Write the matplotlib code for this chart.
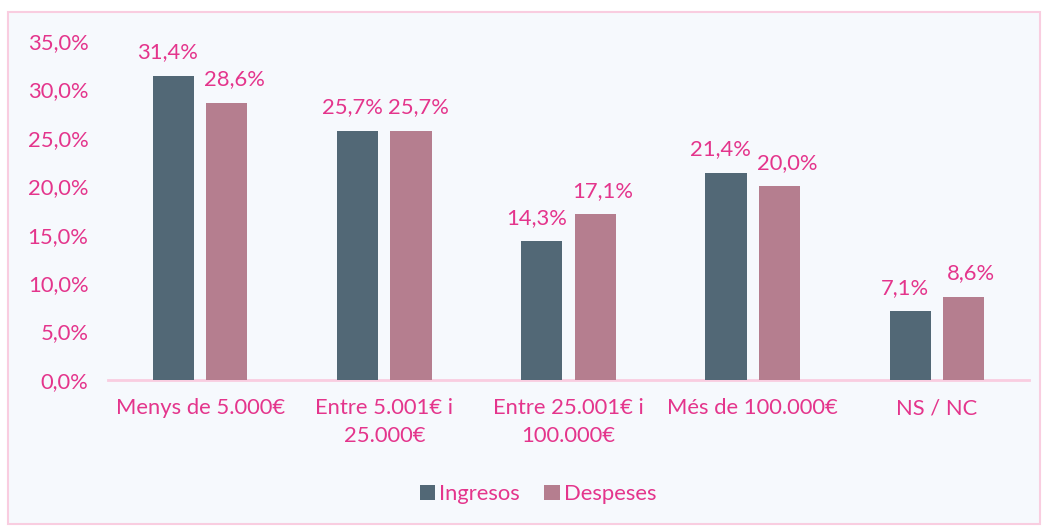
import matplotlib
matplotlib.use("Agg")
import matplotlib.pyplot as plt
from matplotlib.patches import Rectangle
import numpy as np

categories = ["Menys de 5.000€", "Entre 5.001€ i\n25.000€", "Entre 25.001€ i\n100.000€", "Més de 100.000€", "NS / NC"]
ingresos = [31.4, 25.7, 14.3, 21.4, 7.1]
despeses = [28.6, 25.7, 17.1, 20.0, 8.6]
series_names = ["Ingresos", "Despeses"]
yticks = [0, 5, 10, 15, 20, 25, 30, 35]

c_ing = "#526876"
c_des = "#B57E8F"
txt = "#E4358C"
bg = "#F6F9FD"
border = "#F9CDE0"
fs = 15.8

plt.rcParams['font.family'] = ['Lato', 'DejaVu Sans']

W, H = 1043, 526
fig = plt.figure(figsize=(W/100, H/100), dpi=100)
fig.patch.set_facecolor("white")
fig.patches.append(Rectangle((8/W, 1 - 524/H), (1040-8)/W, (524-12)/H, transform=fig.transFigure,
                             facecolor=bg, edgecolor=border, linewidth=1.5, zorder=-5))

ax = fig.add_axes([108/W, 1 - 380/H, (1029-108)/W, (380-41)/H])
ax.set_zorder(2)
ax.set_facecolor("none")
x = np.arange(len(categories))
bw = 0.223
off = 0.145
b1 = ax.bar(x - off, ingresos, bw, color=c_ing, label=series_names[0], zorder=3)
b2 = ax.bar(x + off, despeses, bw, color=c_des, label=series_names[1], zorder=3)

def fmt(v):
    return f"{v:.1f}".replace(".", ",") + "%"

for bars, vals, dx in ((b1, ingresos, -0.03), (b2, despeses, 0.04)):
    for b, v in zip(bars, vals):
        ax.text(b.get_x() + b.get_width()/2 + dx, v + 1.4, fmt(v), ha="center", va="bottom",
                color=txt, fontsize=fs)

ax.set_xlim(-0.5, len(categories) - 0.5)
ax.set_ylim(0, 35)
ax.set_yticks(yticks)
ax.set_yticklabels([f"{t:.1f}".replace(".", ",") + "%" for t in yticks], color=txt, fontsize=fs)
ax.set_xticks(x)
ax.set_xticklabels(categories, color=txt, fontsize=fs, linespacing=1.5)
ax.tick_params(axis="both", length=0)
ax.tick_params(axis="y", pad=14)
ax.tick_params(axis="x", pad=13)
for s in ("top", "right", "left"):
    ax.spines[s].set_visible(False)
ax.spines["bottom"].set_color(border)
ax.spines["bottom"].set_linewidth(2)

leg = fig.legend(loc="center", bbox_to_anchor=(538/W, 1 - 494/H), ncol=2, frameon=False,
                 fontsize=fs, handlelength=0.7, handleheight=0.7, columnspacing=1.1, handletextpad=0.2)
for t in leg.get_texts():
    t.set_color(txt)

fig.savefig("out.png", dpi=100, facecolor="white")
